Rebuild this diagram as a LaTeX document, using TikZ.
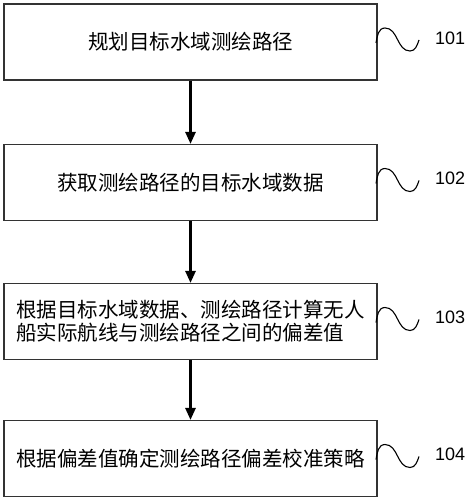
\documentclass[tikz,border=0pt]{standalone}
\usepackage{fontspec}
\setmainfont{Liberation Sans}
\newfontfamily\cjk{Noto Sans CJK SC}
\usetikzlibrary{arrows.meta}
\begin{document}
\begin{tikzpicture}[x=1pt,y=1pt,
  stepbox/.style={draw=black!80,line width=1.1pt,minimum width=373pt,minimum height=76pt,inner sep=0pt,
    font=\cjk\fontsize{20.5}{23}\selectfont,align=left},
  flow/.style={line width=2.6pt,-{Triangle[length=12pt,width=10pt]}},
  wave/.style={line width=1.1pt},
  lbl/.style={font=\fontsize{18}{20}\selectfont,anchor=west,inner sep=0pt}]
\useasboundingbox (0,0) rectangle (466,-500);
\node[stepbox] (b1) at (190.5,-42) {规划目标水域测绘路径};
\node[stepbox] (b2) at (190.5,-182.5) {获取测绘路径的目标水域数据};
\node[stepbox] (b3) at (190.5,-321.5) {根据目标水域数据、测绘路径计算无人\\船实际航线与测绘路径之间的偏差值};
\node[stepbox] (b4) at (190.5,-458.5) {根据偏差值确定测绘路径偏差校准策略};
\draw[flow] (b1) -- (b2);
\draw[flow] (b2) -- (b3);
\draw[flow] (b3) -- (b4);
\foreach \n/\c/\t in {1/-42/101,2/-182.5/102,3/-321.5/103,4/-458.5/104}{
  \draw[wave] (376,\c-1) to[out=80,in=180] (385,\c+14) to[out=0,in=180] (410,\c-9) to[out=0,in=-110] (419,\c+2);
  \node[lbl] (l\n) at (435,\c+4) {\t};
}
\end{tikzpicture}
\end{document}
